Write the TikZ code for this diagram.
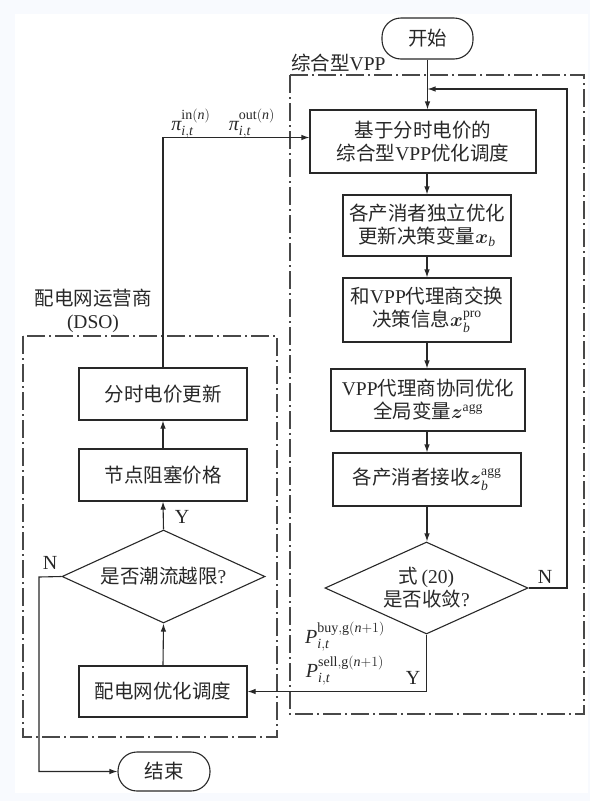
\RequirePackage{fix-cm}
\documentclass[tikz,border=0pt]{standalone}
\usepackage{amsmath}
\usepackage{fontspec}
\setmainfont{Liberation Serif}
\newfontfamily\cjk{Noto Sans CJK SC}
\usetikzlibrary{shapes.geometric,arrows.meta}
\definecolor{bgc}{RGB}{248,250,254}
\definecolor{ink}{RGB}{40,40,40}
\newcommand{\mypi}{\text{\itshape π}}
\begin{document}
\begin{tikzpicture}[x=1pt,y=-1pt,
  txt/.style={font=\fontsize{19.5}{23}\selectfont\cjk, text=ink},
  mth/.style={font=\fontsize{20}{22}\selectfont, text=ink, inner sep=1pt},
  box/.style={txt, draw=ink, line width=1.1pt, align=center, inner sep=2pt},
  term/.style={box, rounded corners=19pt},
  dec/.style={txt, draw=ink, line width=1.1pt, shape=diamond, aspect=2.2, inner sep=0pt, align=center},
  arr/.style={draw=ink, line width=1.1pt, -{Latex[length=8pt,width=5.5pt]}},
  dashdot/.style={draw=ink!85, line width=1.1pt, dash pattern=on 18pt off 4pt on 2pt off 4pt}
]
\fill[bgc] (0,0) rectangle (590,801);
\fill[white] (15,14) rectangle (588,793);
\useasboundingbox (0,0) rectangle (590,801);

% group frames
\draw[dashdot] (290,75) rectangle (584,714);
\draw[dashdot] (23,336) rectangle (277,737);
\node[txt, anchor=west, inner sep=0pt] (lvpp) at (291,63) {综合型{\rmfamily VPP}};
\node[txt, align=center, inner sep=0pt] (ldso) at (93,311) {配电网运营商\\{\rmfamily (DSO)}};

% right column
\node[term, minimum width=91pt, minimum height=41pt] (start) at (427.5,38.5) {开始};
\node[box, minimum width=226pt, minimum height=63pt] (b1) at (423,141.5) {基于分时电价的\\综合型{\rmfamily VPP}优化调度};
\node[box, minimum width=168pt, minimum height=61pt] (b2) at (427,225.5) {各产消者独立优化\\更新决策变量$\boldsymbol{x}_{\mathit{b}}$};
\node[box, minimum width=168pt, minimum height=64pt] (b3) at (427,310) {和{\rmfamily VPP}代理商交换\\决策信息$\boldsymbol{x}_{\mathit{b}}^{\mathrm{pro}}$};
\node[box, minimum width=194pt, minimum height=62pt] (b4) at (428,400) {{\rmfamily VPP}代理商协同优化\\全局变量$\boldsymbol{z}^{\mathrm{agg}}$};
\node[box, minimum width=188pt, minimum height=53pt] (b5) at (427,479.5) {各产消者接收$\boldsymbol{z}_{\mathit{b}}^{\mathrm{agg}}$};
\node[dec, minimum width=203pt, minimum height=92pt] (d1) at (426.5,588) {式{\rmfamily\,(20)}\\是否收敛{\rmfamily ?}};

% left column
\node[box, minimum width=168pt, minimum height=52pt] (upd) at (163,394) {分时电价更新};
\node[box, minimum width=168pt, minimum height=52pt] (jam) at (163,475) {节点阻塞价格};
\node[dec, minimum width=203pt, minimum height=93pt] (d2) at (163.5,576.5) {是否潮流越限{\rmfamily ?}};
\node[box, minimum width=168pt, minimum height=51pt] (opt) at (163,691.5) {配电网优化调度};
\node[term, minimum width=92pt, minimum height=39pt] (end) at (164,771.5) {结束};

% labels
\node[mth] (pin) at (191,124) {$\mypi_{\mathit{i,t}}^{\mathrm{in}(\mathit{n})}$};
\node[mth] (pout) at (252,124) {$\mypi_{\mathit{i,t}}^{\mathrm{out}(\mathit{n})}$};
\node[mth] (pbuy) at (345,637) {$\mathit{P}_{\mathit{i,t}}^{\mathrm{buy,g}(\mathit{n}+1)}$};
\node[mth] (psell) at (345,671) {$\mathit{P}_{\mathit{i,t}}^{\mathrm{sell,g}(\mathit{n}+1)}$};
\node[mth] (y1) at (413,678) {Y};
\node[mth] (n1) at (545,577) {N};
\node[mth] (y2) at (182,517) {Y};
\node[mth] (n2) at (50,563) {N};

% connectors
\coordinate (fb) at (567,89);
\coordinate (nl) at (39,577);
\draw[arr] (start.south) -- (start.south |- b1.north);
\draw[arr] (b2.north |- b1.south) -- (b2.north);
\draw[arr] (b2.south) -- (b3.north);
\draw[arr] (b3.south) -- (b3.south |- b4.north);
\draw[arr] (b5.north |- b4.south) -- (b5.north);
\draw[arr] (b5.south) -- (b5.south |- d1.north);
\draw[arr] (d1.east) -- (d1.east -| fb) -- (fb) -- (start.south |- fb);
\draw[arr] (d1.south) |- (opt.east);
\draw[arr] (opt.north) -- (d2.south);
\draw[arr] (d2.north) -- (jam.south);
\draw[arr] (jam.north) -- (upd.north |- jam.north) -- (upd.south);
\draw[arr] (upd.north) |- ([yshift=4pt]b1.west);
\draw[arr] (d2.west) -- (nl) |- (end.west);
\end{tikzpicture}
\end{document}
